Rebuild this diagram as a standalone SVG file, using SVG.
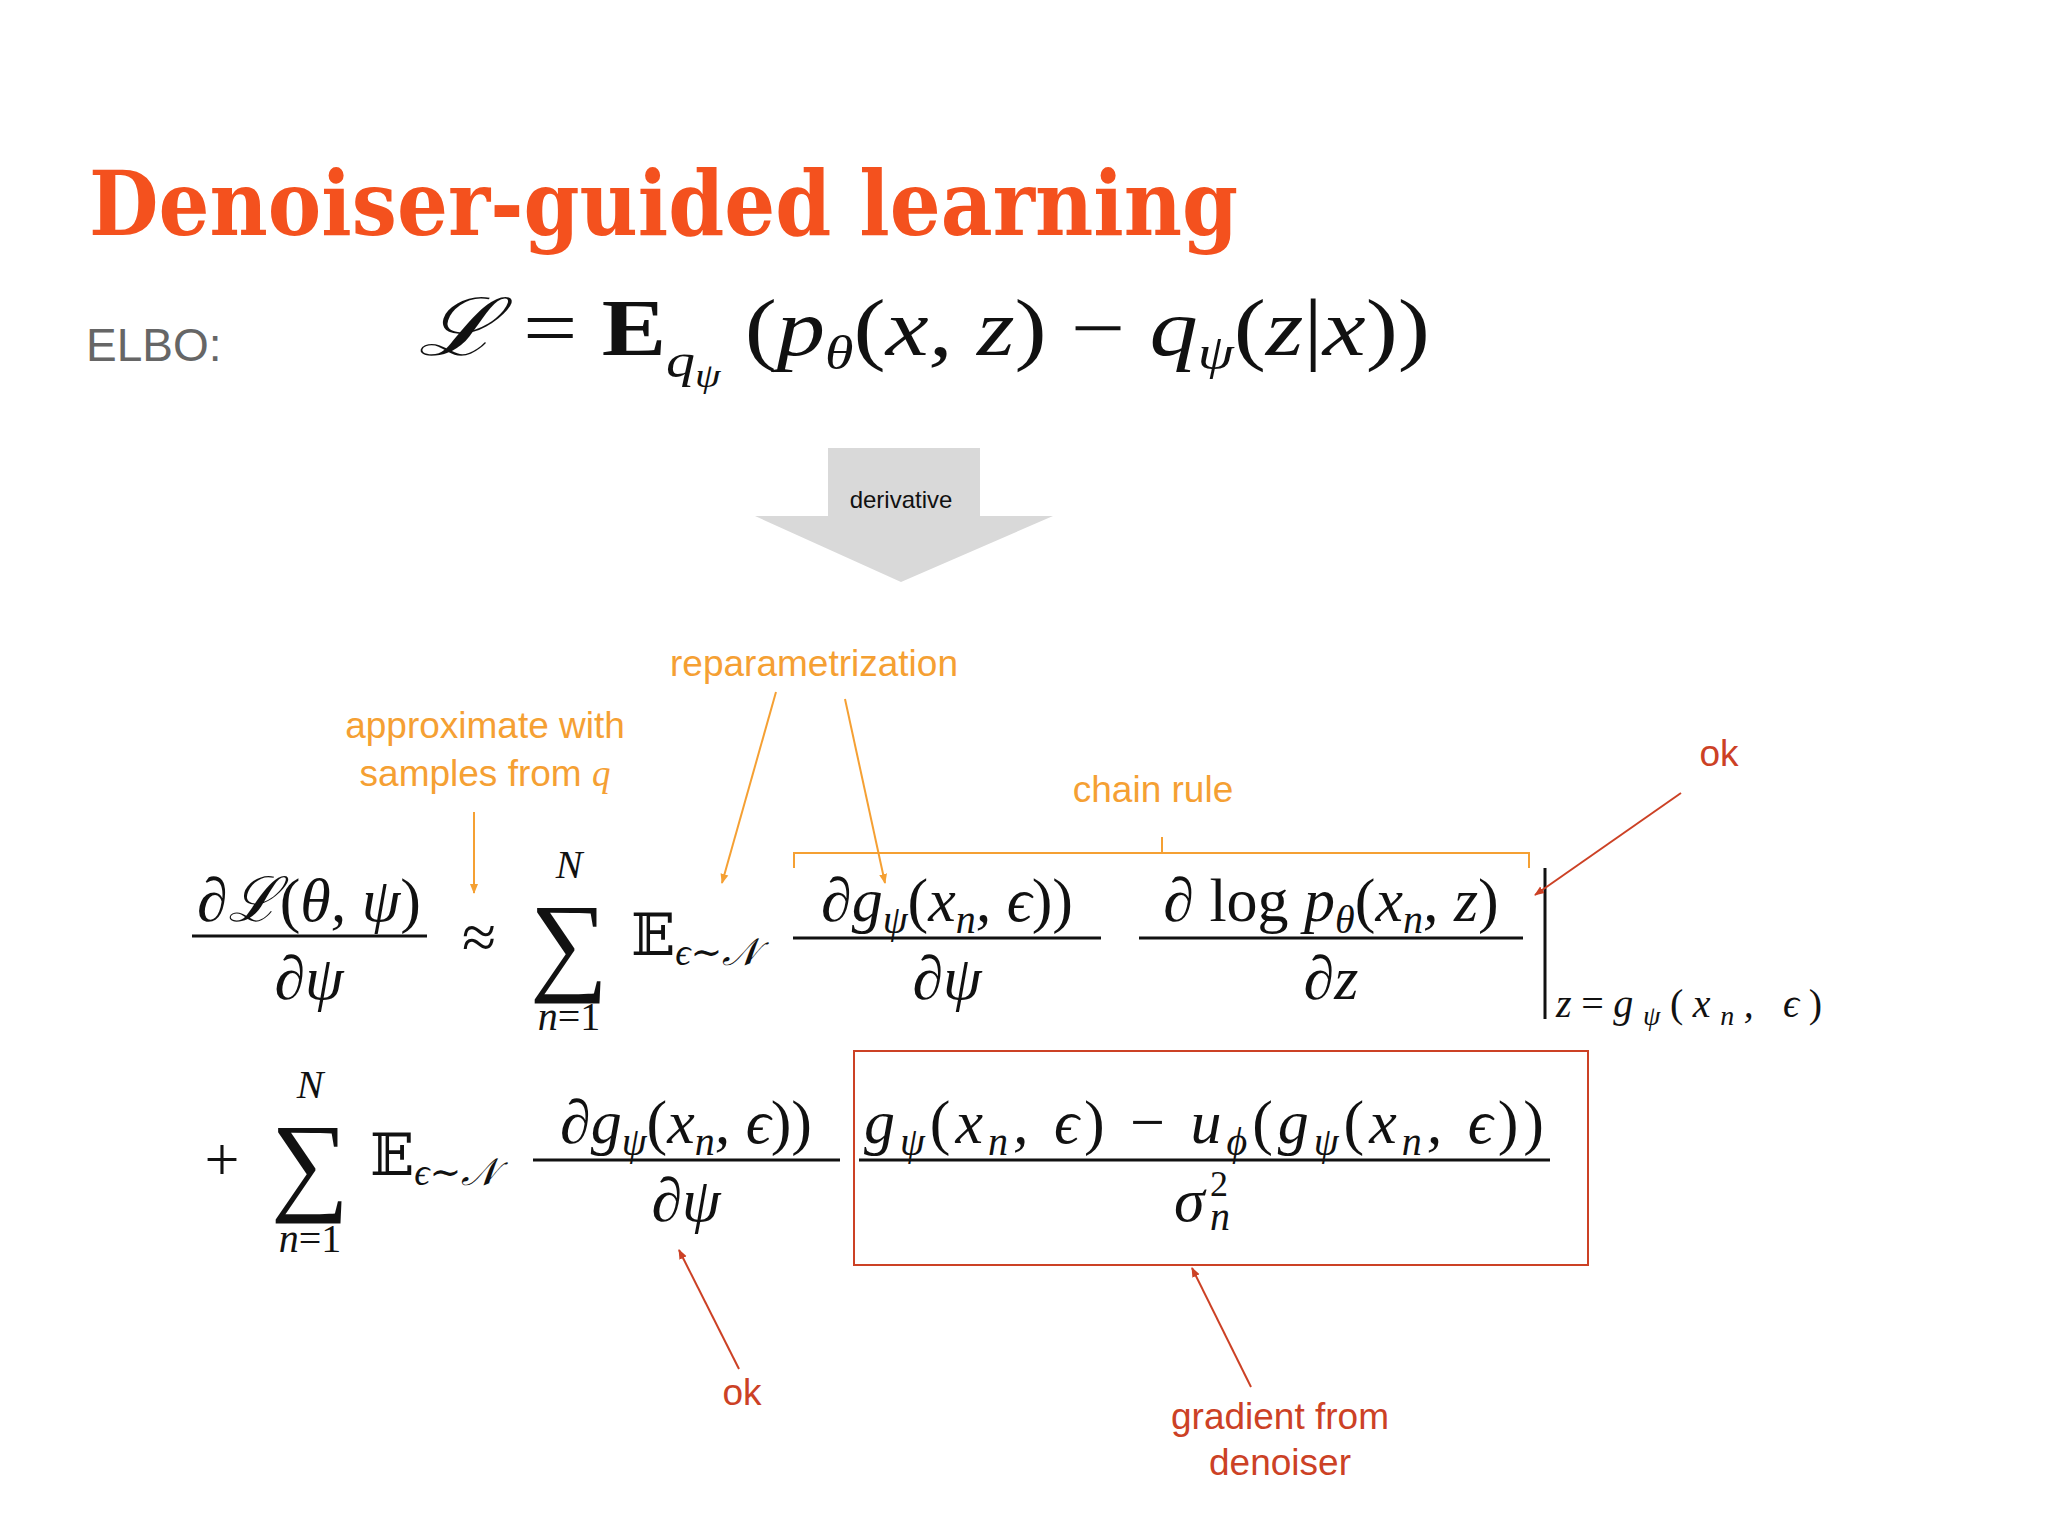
<svg xmlns="http://www.w3.org/2000/svg" width="2048" height="1536" viewBox="0 0 2048 1536">
<style>
.m{font-family:"Liberation Serif","DejaVu Serif",serif;font-style:italic;fill:#111}
.r{font-family:"Liberation Serif","DejaVu Serif",serif;font-style:normal;fill:#111}
.o{font-family:"Liberation Sans",Arial,sans-serif;font-size:37px;fill:#f5a033;text-anchor:middle}
.d{font-family:"Liberation Sans",Arial,sans-serif;font-size:37px;fill:#cc4125;text-anchor:middle}
.ol{stroke:#f5a033;stroke-width:2;fill:none}
.rl{stroke:#cc4125;stroke-width:2;fill:none}
.bar{stroke:#111;stroke-width:3}
</style>
<defs>
<marker id="ao" markerWidth="10" markerHeight="10" refX="9" refY="5" orient="auto" markerUnits="userSpaceOnUse"><path d="M0,1 L10,5 L0,9 z" fill="#f5a033"/></marker>
<marker id="ar" markerWidth="10" markerHeight="10" refX="9" refY="5" orient="auto" markerUnits="userSpaceOnUse"><path d="M0,1 L10,5 L0,9 z" fill="#cc4125"/></marker>
</defs>
<rect width="2048" height="1536" fill="#ffffff"/>
<text x="89" y="235" font-family="'DejaVu Serif',serif" font-weight="bold" font-size="90" fill="#f4511e" textLength="1149" lengthAdjust="spacingAndGlyphs">Denoiser-guided learning</text>
<text x="86" y="361" font-family="'Liberation Sans',Arial,sans-serif" font-size="46" fill="#666">ELBO:</text>
<text class="m" x="418" y="355" font-size="80" textLength="1012" lengthAdjust="spacingAndGlyphs">ℒ <tspan class="r">=</tspan> <tspan class="r" font-weight="bold">E</tspan><tspan font-size="48" dy="22">q<tspan font-size="34" dy="10">ψ</tspan></tspan><tspan dy="-32"> <tspan class="r">(</tspan>p<tspan font-size="48" dy="14">θ</tspan><tspan class="r" dy="-14">(</tspan>x, z<tspan class="r">)</tspan> <tspan class="r">−</tspan> q<tspan font-size="48" dy="14">ψ</tspan><tspan class="r" dy="-14">(</tspan>z<tspan class="r">|</tspan>x<tspan class="r">))</tspan></tspan></text>

<g id="derivative">
<path d="M828,448 H980 V516 H1053 L901,582 L755,516 H828 Z" fill="#d9d9d9"/>
<text x="901" y="508" font-family="'Liberation Sans',Arial,sans-serif" font-size="24" text-anchor="middle" fill="#111">derivative</text>
</g>

<g id="labels">
<text class="o" x="814" y="676">reparametrization</text>
<text class="o" x="485" y="738">approximate with</text>
<text class="o" x="485" y="786">samples from <tspan font-family="'Liberation Serif',serif" font-style="italic">q</tspan></text>
<text class="o" x="1153" y="802">chain rule</text>
<text class="d" x="1719" y="766">ok</text>
<text class="d" x="742" y="1405">ok</text>
<text class="d" x="1280" y="1429">gradient from</text>
<text class="d" x="1280" y="1475">denoiser</text>
</g>

<g id="math">
<text class="m" x="309" y="921" font-size="62" text-anchor="middle">∂ℒ<tspan class="r">(</tspan>θ, ψ<tspan class="r">)</tspan></text>
<line class="bar" x1="192" y1="936" x2="427" y2="936"/>
<text class="m" x="309" y="999" font-size="62" text-anchor="middle">∂ψ</text>
<text class="r" x="479" y="958" font-size="62" text-anchor="middle">≈</text>
<text class="r" x="569" y="980" font-size="110" text-anchor="middle">∑</text>
<text class="m" x="569" y="878" font-size="40" text-anchor="middle">N</text>
<text class="m" x="569" y="1030" font-size="40" text-anchor="middle">n<tspan class="r">=1</tspan></text>
<text class="r" x="631" y="955" font-size="58">𝔼<tspan class="m" font-size="38" dy="10">ϵ∼𝒩</tspan></text>
<text class="m" x="947" y="921" font-size="62" text-anchor="middle">∂g<tspan font-size="40" dy="12">ψ</tspan><tspan class="r" dy="-12">(</tspan>x<tspan font-size="40" dy="12">n</tspan><tspan dy="-12">, ϵ</tspan><tspan class="r">))</tspan></text>
<line class="bar" x1="793" y1="938" x2="1101" y2="938"/>
<text class="m" x="947" y="999" font-size="62" text-anchor="middle">∂ψ</text>
<text class="m" x="1331" y="921" font-size="62" text-anchor="middle">∂ <tspan class="r">log</tspan> p<tspan font-size="40" dy="12">θ</tspan><tspan class="r" dy="-12">(</tspan>x<tspan font-size="40" dy="12">n</tspan><tspan dy="-12">, z</tspan><tspan class="r">)</tspan></text>
<line class="bar" x1="1139" y1="938" x2="1523" y2="938"/>
<text class="m" x="1331" y="999" font-size="62" text-anchor="middle">∂z</text>
<line class="bar" x1="1545" y1="868" x2="1545" y2="1019"/>
<text class="m" x="1556" y="1017" font-size="40" textLength="266" lengthAdjust="spacing">z<tspan class="r">=</tspan>g<tspan font-size="28" dy="8">ψ</tspan><tspan class="r" dy="-8">(</tspan>x<tspan font-size="28" dy="8">n</tspan><tspan dy="-8">, ϵ</tspan><tspan class="r">)</tspan></text>

<text class="r" x="222" y="1180" font-size="62" text-anchor="middle">+</text>
<text class="r" x="310" y="1200" font-size="110" text-anchor="middle">∑</text>
<text class="m" x="310" y="1098" font-size="40" text-anchor="middle">N</text>
<text class="m" x="310" y="1252" font-size="40" text-anchor="middle">n<tspan class="r">=1</tspan></text>
<text class="r" x="370" y="1175" font-size="58">𝔼<tspan class="m" font-size="38" dy="10">ϵ∼𝒩</tspan></text>
<text class="m" x="686" y="1143" font-size="62" text-anchor="middle">∂g<tspan font-size="40" dy="12">ψ</tspan><tspan class="r" dy="-12">(</tspan>x<tspan font-size="40" dy="12">n</tspan><tspan dy="-12">, ϵ</tspan><tspan class="r">))</tspan></text>
<line class="bar" x1="533" y1="1160" x2="840" y2="1160"/>
<text class="m" x="686" y="1221" font-size="62" text-anchor="middle">∂ψ</text>
<text class="m" x="1204" y="1143" font-size="62" text-anchor="middle" textLength="680" lengthAdjust="spacing">g<tspan font-size="40" dy="12">ψ</tspan><tspan class="r" dy="-12">(</tspan>x<tspan font-size="40" dy="12">n</tspan><tspan dy="-12">, ϵ</tspan><tspan class="r">) − </tspan>u<tspan font-size="40" dy="12">ϕ</tspan><tspan class="r" dy="-12">(</tspan>g<tspan font-size="40" dy="12">ψ</tspan><tspan class="r" dy="-12">(</tspan>x<tspan font-size="40" dy="12">n</tspan><tspan dy="-12">, ϵ</tspan><tspan class="r">))</tspan></text>
<line class="bar" x1="859" y1="1160" x2="1550" y2="1160"/>
<text class="m" x="1174" y="1221" font-size="62">σ</text>
<text class="r" x="1210" y="1196" font-size="36">2</text>
<text class="m" x="1210" y="1230" font-size="40">n</text>
</g>

<g id="connectors">
<path class="ol" d="M794,868 V853 H1529 V868 M1162,853 V837"/>
<line class="ol" x1="474" y1="812" x2="474" y2="893" marker-end="url(#ao)"/>
<line class="ol" x1="776" y1="692" x2="722" y2="883" marker-end="url(#ao)"/>
<line class="ol" x1="845" y1="699" x2="885" y2="883" marker-end="url(#ao)"/>
<line class="rl" x1="1681" y1="793" x2="1535" y2="895" marker-end="url(#ar)"/>
<line class="rl" x1="739" y1="1369" x2="679" y2="1250" marker-end="url(#ar)"/>
<line class="rl" x1="1251" y1="1387" x2="1192" y2="1268" marker-end="url(#ar)"/>
<rect class="rl" x="854" y="1051" width="734" height="214"/>
</g>
</svg>
